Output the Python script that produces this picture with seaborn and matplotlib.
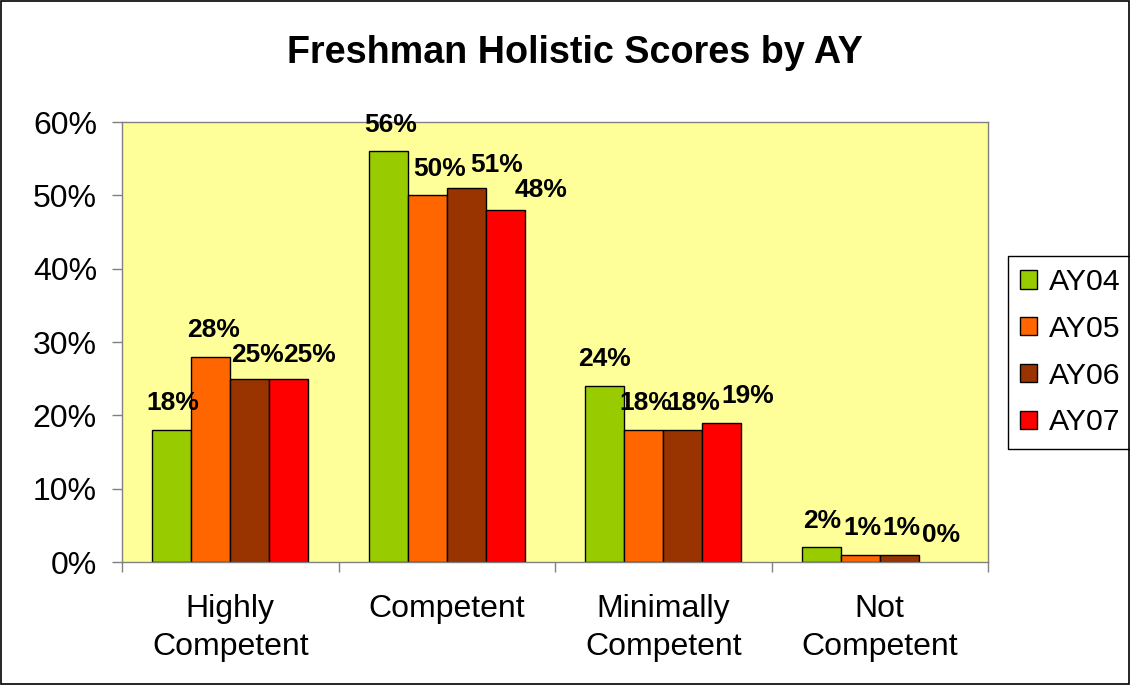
import pandas as pd
import matplotlib
matplotlib.use("Agg")
import matplotlib.pyplot as plt
import seaborn as sns
from matplotlib.ticker import FixedLocator, FuncFormatter
from matplotlib.patches import Rectangle

# %% data
categories = ["Highly\nCompetent", "Competent", "Minimally\nCompetent", "Not\nCompetent"]
years = ["AY04", "AY05", "AY06", "AY07"]
ay04 = [18, 56, 24, 2]
ay05 = [28, 50, 18, 1]
ay06 = [25, 51, 18, 1]
ay07 = [25, 48, 19, 0]
colors = ["#99CC00", "#FF6600", "#993300", "#FF0000"]

# label nudges (pixels right / up) so the crowded labels sit like the original
nudge_x = [[1, 2, 0, 1], [3, 12, 2, 2], [8, 30, 11, 2], [21, 36, 26, 3]]
nudge_y = [[0, 0, 0, 0], [0, 0, 0, 0], [-3, -4, 0, 0], [-3, -7, 0, 0]]

df = pd.DataFrame({
    "Category": categories * 4,
    "Year": [y for y in years for _ in categories],
    "Score": ay04 + ay05 + ay06 + ay07,
})

# %% plot
sns.set_style("white")
plt.rcParams["font.family"] = ["Liberation Sans", "DejaVu Sans"]
plt.rcParams["text.color"] = "black"

fig = plt.figure(figsize=(11.3, 6.85), dpi=100)
ax = fig.add_axes([122 / 1130, 1 - 562 / 685, (988 - 122) / 1130, (562 - 122) / 685])
ax.set_facecolor("#FFFF99")

sns.barplot(
    data=df, x="Category", y="Score", hue="Year",
    order=categories, hue_order=years, palette=colors,
    saturation=1, width=0.72, edgecolor="black", linewidth=1,
    ax=ax,
)

pad = 10.5
for i, cont in enumerate(ax.containers):
    for bar in cont:
        if bar.get_height() == 0:
            bar.set_linewidth(0)
    anns = ax.bar_label(cont, labels=[f"{v:.0f}%" for v in cont.datavalues],
                        padding=pad, fontsize=19, fontweight="bold", color="black")
    for j, a in enumerate(anns):
        a.xyann = (nudge_x[i][j] * 0.72, pad + nudge_y[i][j] * 0.72)

ax.set_ylim(0, 60)
ax.set_xlim(-0.5, 3.5)
ax.set_yticks(range(0, 61, 10))
ax.yaxis.set_major_formatter(FuncFormatter(lambda v, p: f"{v:.0f}%"))
ax.xaxis.set_minor_locator(FixedLocator([-0.5, 0.5, 1.5, 2.5, 3.5]))
ax.tick_params(axis="y", which="major", length=7, width=1, color="#808080",
               labelsize=23, pad=11, left=True, labelcolor="black")
ax.tick_params(axis="x", which="major", length=0, labelsize=23, pad=23, labelcolor="black")
ax.tick_params(axis="x", which="minor", length=7, width=1, color="#808080", bottom=True)
for lab in ax.get_xticklabels():
    lab.set_linespacing(1.35)

for s in ax.spines.values():
    s.set_color("#808080")
    s.set_linewidth(1)

ax.set_xlabel("")
ax.set_ylabel("")

handles, labels = ax.get_legend_handles_labels()
ax.legend(handles, labels, loc="upper left",
          bbox_to_anchor=(1008 / 1130, 1 - 256 / 685), bbox_transform=fig.transFigure,
          borderaxespad=0, fancybox=False, edgecolor="black", framealpha=1,
          fontsize=21.8, handlelength=0.55, handleheight=0.55, handletextpad=0.4,
          labelspacing=0.62, borderpad=0.4, labelcolor="black")
ax.get_legend().get_frame().set_linewidth(1)

fig.text(575 / 1130, 1 - 53 / 685, "Freshman Holistic Scores by AY",
         ha="center", va="center", fontsize=27.2, fontweight="bold", color="black")

fig.patches.append(Rectangle((0.001, 0.001), 0.998, 0.997, transform=fig.transFigure,
                             fill=False, edgecolor="black", linewidth=1.2))

fig.savefig("out.png", dpi=100)
